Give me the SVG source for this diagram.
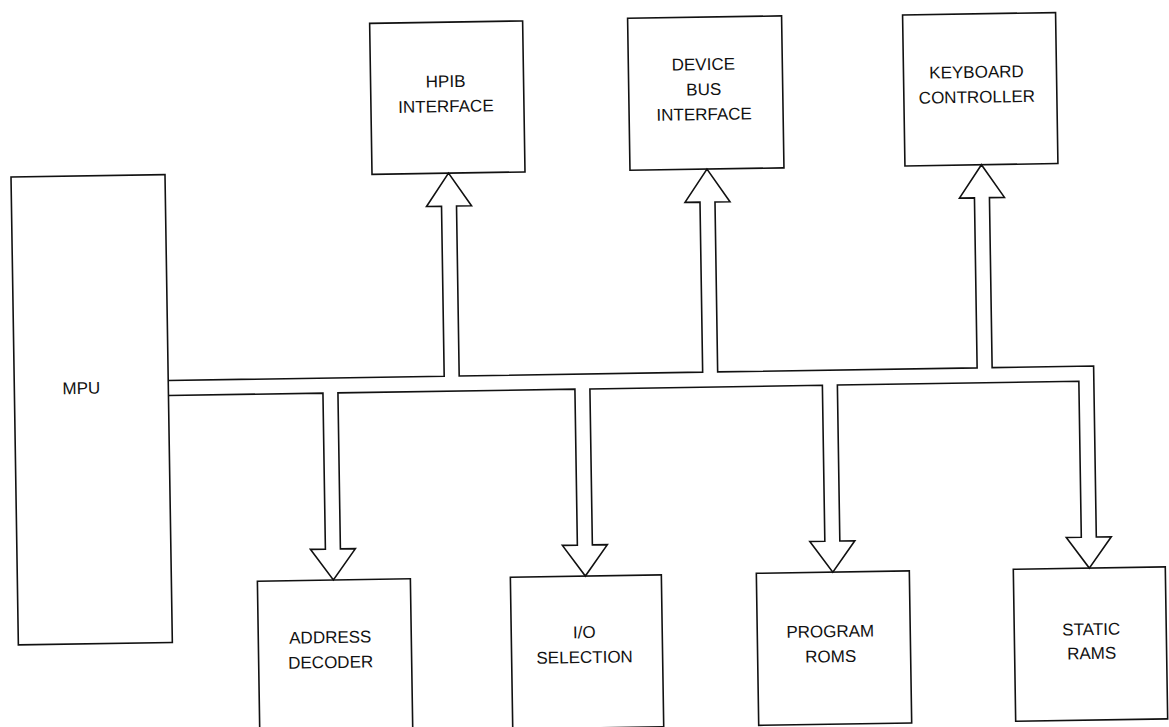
<svg xmlns="http://www.w3.org/2000/svg" width="1169" height="727" viewBox="0 0 1169 727">
<style>
.box{fill:none;stroke:#111;stroke-width:1.6}
.bus{fill:none;stroke:#111;stroke-width:1.6;stroke-linejoin:miter}
.lbl{font-family:"Liberation Sans",Arial,sans-serif;font-size:17px;fill:#111;text-anchor:middle}
</style>
<rect width="1169" height="727" fill="#fff"/>
<g transform="rotate(-0.9 585 363)">
<g id="connectors">
<path class="bus" d="M168,374 H444 V204 H429 L451.5,171 L474,204 H459 V374 H702.5 V204 H687.5 L710,171 L732.5,204 H717.5 V374 H977 V204 H962 L984.5,171 L1007,204 H992 V374 H1093.5 V545 H1108.5 L1086,576 L1063.5,545 H1078.5 V389 H837 V545 H852 L829.5,576 L807,545 H822 V389 H589.5 V545 H604.5 L582,576 L559.5,545 H574.5 V389 H337.5 V545 H352.5 L330,576 L307.5,545 H322.5 V389 H168"/>
</g>
<g id="mpu"><rect class="box" x="14" y="168" width="154" height="468"/><text class="lbl" x="81" y="386">MPU</text></g>
<g id="hpib"><rect class="box" x="375" y="20" width="153" height="151"/><text class="lbl" x="450" y="85">HPIB</text><text class="lbl" x="450" y="110">INTERFACE</text></g>
<g id="devicebus"><rect class="box" x="633" y="19" width="154" height="152"/><text class="lbl" x="708" y="72">DEVICE</text><text class="lbl" x="708" y="97">BUS</text><text class="lbl" x="708" y="122">INTERFACE</text></g>
<g id="keyboard"><rect class="box" x="908" y="20" width="153" height="151"/><text class="lbl" x="981" y="84">KEYBOARD</text><text class="lbl" x="981" y="109">CONTROLLER</text></g>
<g id="address"><rect class="box" x="254" y="576" width="153" height="152"/><text class="lbl" x="326" y="639">ADDRESS</text><text class="lbl" x="326" y="664">DECODER</text></g>
<g id="io"><rect class="box" x="507" y="576" width="151" height="152"/><text class="lbl" x="580" y="638">I/O</text><text class="lbl" x="580" y="663">SELECTION</text></g>
<g id="program"><rect class="box" x="753" y="576" width="153" height="152"/><text class="lbl" x="826" y="641">PROGRAM</text><text class="lbl" x="826" y="666">ROMS</text></g>
<g id="static"><rect class="box" x="1010" y="576" width="152" height="152"/><text class="lbl" x="1087" y="643">STATIC</text><text class="lbl" x="1087" y="667">RAMS</text></g>
</g>
</svg>
